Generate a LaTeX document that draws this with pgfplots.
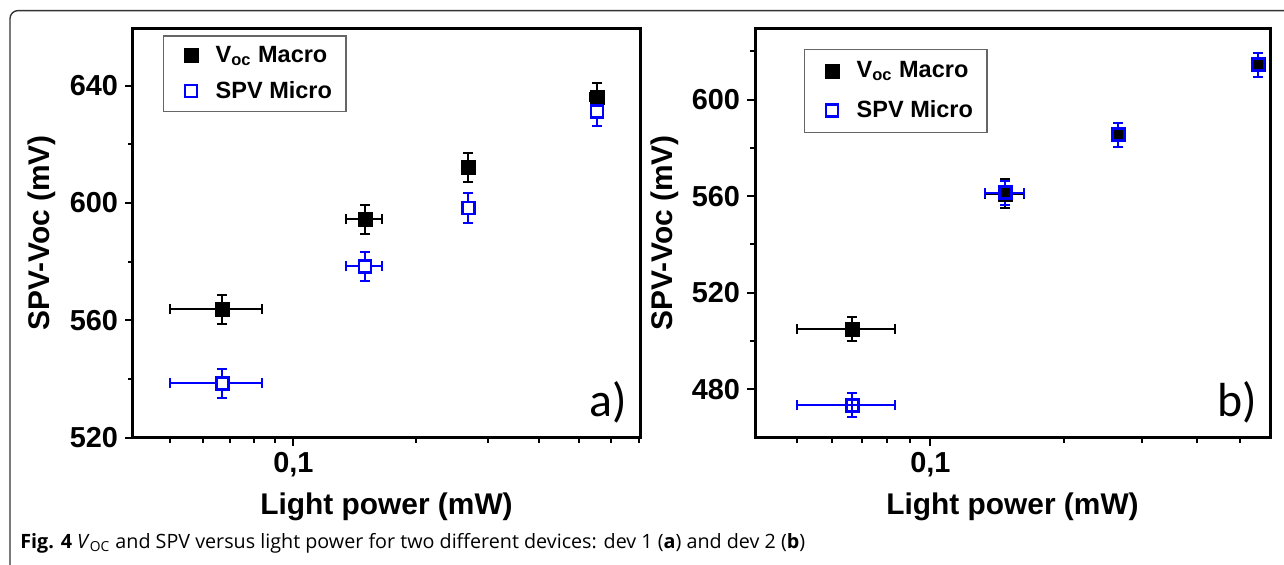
\documentclass[border=0pt]{standalone}
\usepackage{fontspec}
\setmainfont{Liberation Sans}
\newfontfamily\capfont{Open Sans}
\newfontfamily\lblfont{Carlito}
\usepackage{pgfplots}
\pgfplotsset{compat=1.18}

\begin{document}
\begin{tikzpicture}
\path[use as bounding box] (0,0) rectangle (642bp,282.5bp);
\draw[line width=0.7bp, black!80, rounded corners=4bp] (5bp,-2bp) -- (5bp,277.2bp) -- (645bp,277.2bp);

% panel a (dev 1)
\begin{axis}[
    at={(66.5bp,63.75bp)}, anchor=south west,
    scale only axis, width=253.5bp, height=204.5bp,
    xmode=log,
    xmin=0.0405, xmax=0.705, ymin=520, ymax=659.5,
    xtick={0.01,0.1,1},
    log ticks with fixed point,
    /pgf/number format/use comma,
    ytick={520,560,600,640}, minor ytick={540,580,620},
    axis line style={line width=1.5bp},
    tick align=outside,
    xtick pos=bottom, ytick pos=left,
    major tick length=4bp, minor tick length=2.5bp,
    every tick/.style={black, line width=1bp},
    tick label style={font=\bfseries\fontsize{14.5}{14.5}\selectfont},
    /pgf/number format/assume math mode=true,
    label style={font=\bfseries\fontsize{15}{15}\selectfont},
    xlabel={Light power (mW)},
    ylabel={SPV-Voc (mV)},
    x label style={at={(axis description cs:0.5,-0.17)}, anchor=center},
    y label style={at={(axis description cs:-0.18,0.5)}, anchor=center},
    legend cell align=left,
    legend image code/.code={\path (0bp,0bp) (18.5bp,0bp);
      \draw[mark repeat=2, mark phase=2, #1] plot coordinates {(0bp,0bp) (8.5bp,0bp) (17bp,0bp)};},
    legend style={at={(0.059,0.983)}, anchor=north west, row sep=4bp,
      draw=black!60, line width=0.6bp, inner xsep=5bp, inner ysep=3bp,
      font=\bfseries\fontsize{11.8}{13}\selectfont},
  ]
\addplot[only marks, mark=square*, mark size=3.5bp, black,
    mark options={fill=black, line width=0.2bp},
    error bars/x dir=both, error bars/x explicit,
    error bars/y dir=both, error bars/y explicit,
    error bars/error bar style={line width=1bp},
    error bars/error mark options={rotate=90, mark size=2.5bp, line width=1bp}]
  coordinates {
  (0.067,563.7) +- (0.017,5)
  (0.1495,594.4) +- (0.015,5)
  (0.268,612.1) +- (0.009,5)
  (0.553,636.0) +- (0.02,5)
};
\addlegendentry{V\textsubscript{oc} Macro}
\addplot[only marks, mark=square*, mark size=3bp, blue,
    mark options={fill=white, line width=1.25bp},
    error bars/x dir=both, error bars/x explicit,
    error bars/y dir=both, error bars/y explicit,
    error bars/error bar style={line width=1bp},
    error bars/error mark options={rotate=90, mark size=2.5bp, line width=1bp}]
  coordinates {
  (0.067,538.5) +- (0.017,5)
  (0.1495,578.4) +- (0.015,5)
  (0.268,598.3) +- (0.009,5)
  (0.553,631.2) +- (0.009,5)
};
\addlegendentry{SPV Micro}
\node[font=\lblfont\fontsize{24}{24}\selectfont, anchor=south east, inner sep=0pt]
  at (rel axis cs:0.975,0.035) {a)};
\end{axis}

% panel b (dev 2)
\begin{axis}[
    at={(377.5bp,63.75bp)}, anchor=south west,
    scale only axis, width=257.5bp, height=204.5bp,
    xmode=log,
    xmin=0.0402, xmax=0.584, ymin=460, ymax=629.5,
    xtick={0.01,0.1,1},
    log ticks with fixed point,
    /pgf/number format/use comma,
    ytick={480,520,560,600}, minor ytick={500,540,580,620},
    axis line style={line width=1.5bp},
    tick align=outside,
    xtick pos=bottom, ytick pos=left,
    major tick length=4bp, minor tick length=2.5bp,
    every tick/.style={black, line width=1bp},
    tick label style={font=\bfseries\fontsize{14.5}{14.5}\selectfont},
    /pgf/number format/assume math mode=true,
    label style={font=\bfseries\fontsize{15}{15}\selectfont},
    xlabel={Light power (mW)},
    ylabel={SPV-Voc (mV)},
    x label style={at={(axis description cs:0.5,-0.17)}, anchor=center},
    y label style={at={(axis description cs:-0.175,0.5)}, anchor=center},
    legend cell align=left,
    legend image code/.code={\path (0bp,0bp) (18.5bp,0bp);
      \draw[mark repeat=2, mark phase=2, #1] plot coordinates {(0bp,0bp) (8.5bp,0bp) (17bp,0bp)};},
    legend style={at={(0.095,0.951)}, anchor=north west, row sep=6bp,
      draw=black!60, line width=0.6bp, inner xsep=5bp, inner ysep=4bp,
      font=\bfseries\fontsize{11.8}{13}\selectfont},
  ]
\addplot[only marks, mark=square*, mark size=3.5bp, black,
    mark options={fill=black, line width=0.2bp},
    error bars/x dir=both, error bars/x explicit,
    error bars/y dir=both, error bars/y explicit,
    error bars/error bar style={line width=1bp},
    error bars/error mark options={rotate=90, mark size=2.5bp, line width=1bp}]
  coordinates {
  (0.0667,505.0) +- (0.0167,5)
  (0.1477,561.0) +- (0.015,6)
  (0.2655,585.5) +- (0.008,5)
  (0.548,614.5) +- (0.008,5)
};
\addlegendentry{V\textsubscript{oc} Macro}
\addplot[only marks, mark=square, mark size=3bp, blue,
    mark options={line width=1.25bp},
    error bars/x dir=both, error bars/x explicit,
    error bars/y dir=both, error bars/y explicit,
    error bars/error bar style={line width=1bp},
    error bars/error mark options={rotate=90, mark size=2.5bp, line width=1bp}]
  coordinates {
  (0.0667,473.3) +- (0.0167,5)
  (0.1477,561.5) +- (0.015,5)
  (0.2655,585.5) +- (0.008,5)
  (0.548,614.5) +- (0.008,5)
};
\addlegendentry{SPV Micro}
\node[font=\lblfont\fontsize{24}{24}\selectfont, anchor=south east, inner sep=0pt]
  at (rel axis cs:0.975,0.035) {b)};
\end{axis}

\node[anchor=base west, inner sep=0pt, font=\capfont\fontsize{9.9}{11}\selectfont]
  at (10bp,8.5bp) {\textbf{Fig. 4} \textit{V}\textsubscript{OC} and SPV versus light power for two different devices: dev 1 (\textbf{a}) and dev 2 (\textbf{b})};
\end{tikzpicture}
\end{document}
